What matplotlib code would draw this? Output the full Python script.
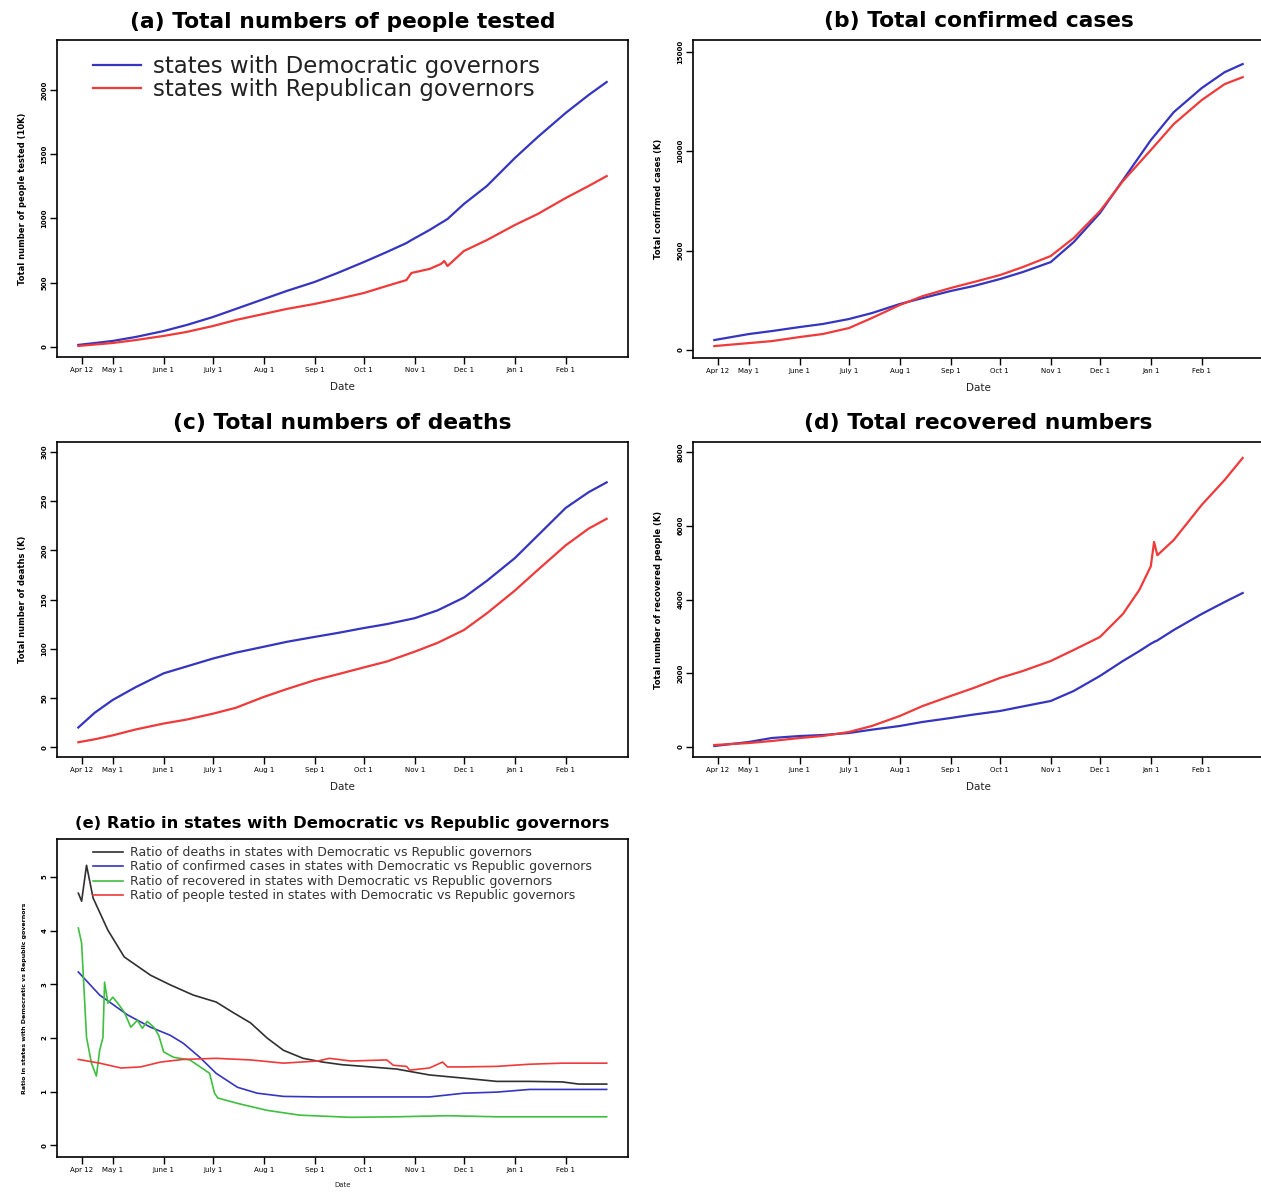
#script for the governors comparison panels

import numpy as np
import matplotlib
matplotlib.use('Agg')
import matplotlib.pyplot as plt
import pandas as pd

BLUE = '#3535c0'
RED = '#f03a3a'
GREEN = '#3fbf3f'
BLACK = '#303030'

tick_dates = ['2020-04-12', '2020-05-01', '2020-06-01', '2020-07-01', '2020-08-01', '2020-09-01',
              '2020-10-01', '2020-11-01', '2020-12-01', '2021-01-01', '2021-02-01']
tick_labels = ['Apr 12', 'May 1', 'June 1', 'July 1', 'Aug 1', 'Sep 1',
               'Oct 1', 'Nov 1', 'Dec 1', 'Jan 1', 'Feb 1']

# (a) people tested
dates_a = ['2020-04-10', '2020-05-01', '2020-05-15', '2020-06-01', '2020-06-15', '2020-07-01',
           '2020-07-15', '2020-08-01', '2020-08-15', '2020-09-01', '2020-09-15', '2020-10-01',
           '2020-10-15', '2020-10-27', '2020-10-30', '2020-11-10', '2020-11-17', '2020-11-19',
           '2020-11-21', '2020-12-01', '2020-12-15', '2021-01-01', '2021-01-15', '2021-02-01',
           '2021-02-15', '2021-02-26']
tested_dem = [16, 47, 78, 124, 171, 233, 296, 373, 436, 506, 576, 661, 739, 809, 832, 910,
              965, 980, 996, 1113, 1253, 1470, 1634, 1821, 1961, 2062]
tested_rep = [8, 31, 54, 86, 117, 163, 210, 257, 296, 335, 373, 420, 475, 521, 576, 607,
              646, 669, 630, 747, 832, 949, 1035, 1159, 1253, 1330]

# (b) confirmed cases
dates_b = ['2020-04-10', '2020-05-01', '2020-05-15', '2020-06-01', '2020-06-15', '2020-07-01',
           '2020-07-15', '2020-08-01', '2020-08-15', '2020-09-01', '2020-09-15', '2020-10-01',
           '2020-10-15', '2020-11-01', '2020-11-15', '2020-12-01', '2020-12-15', '2021-01-01',
           '2021-01-15', '2021-02-01', '2021-02-15', '2021-02-26']
cases_dem = [503, 805, 955, 1157, 1310, 1560, 1860, 2315, 2615, 2970, 3220, 3570, 3925, 4425,
             5430, 6890, 8550, 10560, 11970, 13180, 13980, 14390]
cases_rep = [200, 350, 450, 655, 805, 1105, 1610, 2265, 2715, 3120, 3420, 3770, 4175, 4730,
             5635, 6990, 8500, 10060, 11370, 12575, 13380, 13730]

# (c) deaths
dates_c = ['2020-04-10', '2020-04-20', '2020-05-01', '2020-05-15', '2020-06-01', '2020-06-15',
           '2020-07-01', '2020-07-15', '2020-08-01', '2020-08-15', '2020-09-01', '2020-09-15',
           '2020-10-01', '2020-10-15', '2020-11-01', '2020-11-15', '2020-12-01', '2020-12-15',
           '2021-01-01', '2021-01-15', '2021-02-01', '2021-02-15', '2021-02-26']
deaths_dem = [20, 35, 48, 61, 75, 82, 90, 96, 102, 107, 112, 116, 121, 125, 131, 139, 152, 169,
              192, 215, 243, 259, 269]
deaths_rep = [5, 8, 12, 18, 24, 28, 34, 40, 51, 59, 68, 74, 81, 87, 97, 106, 119, 136, 159, 180,
              205, 222, 232]

# (d) recovered
dates_d = ['2020-04-10', '2020-05-01', '2020-05-15', '2020-06-01', '2020-06-15', '2020-07-01',
           '2020-07-15', '2020-08-01', '2020-08-15', '2020-09-01', '2020-09-15', '2020-10-01',
           '2020-10-15', '2020-11-01', '2020-11-15', '2020-12-01', '2020-12-15', '2020-12-25',
           '2021-01-01', '2021-01-03', '2021-01-05', '2021-01-15', '2021-02-01', '2021-02-15',
           '2021-02-26']
recov_dem = [27, 136, 244, 298, 325, 380, 470, 570, 680, 786, 880, 976, 1100, 1248, 1519, 1926,
             2332, 2600, 2800, 2850, 2890, 3173, 3607, 3932, 4176]
recov_rep = [54, 108, 163, 244, 298, 407, 570, 841, 1112, 1383, 1600, 1871, 2061, 2332, 2631,
             2983, 3607, 4258, 4900, 5560, 5200, 5614, 6563, 7241, 7838]

# (e) ratios
dates_death_r = ['2020-04-10', '2020-04-12', '2020-04-15', '2020-04-19', '2020-04-28', '2020-05-08',
                 '2020-05-24', '2020-06-05', '2020-06-19', '2020-07-03', '2020-07-13', '2020-07-24',
                 '2020-08-03', '2020-08-13', '2020-08-25', '2020-09-06', '2020-09-18', '2020-10-01',
                 '2020-10-21', '2020-11-10', '2020-12-01', '2020-12-21', '2021-01-10', '2021-01-30',
                 '2021-02-09', '2021-02-26']
ratio_death = [4.70, 4.55, 5.22, 4.61, 4.01, 3.51, 3.17, 2.99, 2.80, 2.67, 2.48, 2.28, 2.00, 1.77,
               1.62, 1.55, 1.50, 1.47, 1.42, 1.31, 1.25, 1.19, 1.19, 1.18, 1.14, 1.14]

dates_case_r = ['2020-04-10', '2020-04-23', '2020-05-10', '2020-05-24', '2020-06-05', '2020-06-13',
                '2020-06-23', '2020-07-03', '2020-07-16', '2020-07-28', '2020-08-13', '2020-09-03',
                '2020-09-23', '2020-11-10', '2020-12-01', '2020-12-21', '2021-01-10', '2021-02-26']
ratio_case = [3.23, 2.80, 2.43, 2.20, 2.05, 1.90, 1.64, 1.34, 1.08, 0.97, 0.91, 0.90, 0.90, 0.90,
              0.97, 0.99, 1.04, 1.04]

dates_recov_r = ['2020-04-10', '2020-04-12', '2020-04-15', '2020-04-18', '2020-04-21', '2020-04-23',
                 '2020-04-25', '2020-04-26', '2020-04-28', '2020-05-01', '2020-05-04', '2020-05-08',
                 '2020-05-12', '2020-05-16', '2020-05-19', '2020-05-22', '2020-05-26', '2020-05-29',
                 '2020-06-01', '2020-06-07', '2020-06-17', '2020-06-29', '2020-07-02', '2020-07-04',
                 '2020-07-16', '2020-08-03', '2020-08-23', '2020-09-23', '2020-10-21', '2020-11-21',
                 '2020-12-21', '2021-01-30', '2021-02-26']
ratio_recov = [4.05, 3.77, 2.01, 1.53, 1.29, 1.77, 2.01, 3.04, 2.65, 2.76, 2.65, 2.48, 2.20, 2.33,
               2.18, 2.31, 2.20, 2.05, 1.74, 1.64, 1.59, 1.34, 0.97, 0.88, 0.78, 0.65, 0.56, 0.52,
               0.53, 0.55, 0.53, 0.53, 0.53]

dates_test_r = ['2020-04-10', '2020-04-23', '2020-05-06', '2020-05-18', '2020-05-30', '2020-06-13',
                '2020-07-03', '2020-07-24', '2020-08-13', '2020-09-03', '2020-09-10', '2020-09-23',
                '2020-10-15', '2020-10-19', '2020-10-27', '2020-10-29', '2020-11-10', '2020-11-18',
                '2020-11-21', '2020-12-01', '2020-12-21', '2021-01-10', '2021-01-30', '2021-02-26']
ratio_test = [1.60, 1.53, 1.44, 1.46, 1.55, 1.60, 1.62, 1.59, 1.53, 1.57, 1.62, 1.57, 1.59, 1.49,
              1.47, 1.40, 1.44, 1.55, 1.46, 1.46, 1.47, 1.51, 1.53, 1.53]

W, H = 1261, 1193
fig = plt.figure(figsize=(W / 100, H / 100), dpi=100)
plt.rcParams['font.family'] = 'DejaVu Sans'


def box(left, top, right, bottom):
    return [left / W, 1 - bottom / H, (right - left) / W, (bottom - top) / H]


def style_axes(ax, title, ylabel, yticks, ylim, title_size=15.7, date_size=7.5, title_pad=9):
    ax.set_xlim(pd.Timestamp('2020-03-28'), pd.Timestamp('2021-03-11'))
    ax.set_ylim(*ylim)
    ax.set_xticks(pd.to_datetime(tick_dates))
    ax.set_xticklabels(tick_labels)
    ax.set_yticks(yticks)
    ax.tick_params(direction='out', length=5, width=1, labelsize=5, pad=2)
    for lab in ax.get_yticklabels():
        lab.set_rotation(90)
        lab.set_va('center')
        lab.set_fontweight('bold')
    for sp in ax.spines.values():
        sp.set_linewidth(1.2)
    ax.set_title(title, fontsize=title_size, fontweight='bold', pad=title_pad)
    ax.set_xlabel('Date', fontsize=date_size, labelpad=7, color='#222222')
    ax.set_ylabel(ylabel, fontsize=6, fontweight='bold', labelpad=10)


# (a)
ax = fig.add_axes(box(57, 40, 628, 357))
ax.plot(pd.to_datetime(dates_a), tested_dem, color=BLUE, lw=1.6, label='states with Democratic governors')
ax.plot(pd.to_datetime(dates_a), tested_rep, color=RED, lw=1.6, label='states with Republican governors')
style_axes(ax, '(a) Total numbers of people tested', 'Total number of people tested (10K)',
           [0, 500, 1000, 1500, 2000], (-78, 2389))
ax.legend(loc='upper left', bbox_to_anchor=(0.047, 0.983), frameon=False, fontsize=16.5,
          handlelength=2.1, handletextpad=0.5, labelspacing=0.0, borderaxespad=0.0,
          labelcolor='#222222')

# (b)
ax = fig.add_axes(box(693, 40, 1264, 358))
ax.plot(pd.to_datetime(dates_b), cases_dem, color=BLUE, lw=1.6)
ax.plot(pd.to_datetime(dates_b), cases_rep, color=RED, lw=1.6)
style_axes(ax, '(b) Total confirmed cases', 'Total confirmed cases (K)',
           [0, 5000, 10000, 15000], (-400, 15600))

# (c)
ax = fig.add_axes(box(57, 442, 628, 757))
ax.plot(pd.to_datetime(dates_c), deaths_dem, color=BLUE, lw=1.6)
ax.plot(pd.to_datetime(dates_c), deaths_rep, color=RED, lw=1.6)
style_axes(ax, '(c) Total numbers of deaths', 'Total number of deaths (K)',
           [0, 50, 100, 150, 200, 250, 300], (-10, 310))

# (d)
ax = fig.add_axes(box(693, 442, 1264, 757))
ax.plot(pd.to_datetime(dates_d), recov_dem, color=BLUE, lw=1.6)
ax.plot(pd.to_datetime(dates_d), recov_rep, color=RED, lw=1.6)
style_axes(ax, '(d) Total recovered numbers', 'Total number of recovered people (K)',
           [0, 2000, 4000, 6000, 8000], (-271, 8271))

# (e)
ax = fig.add_axes(box(57, 839, 628, 1157))
ax.plot(pd.to_datetime(dates_death_r), ratio_death, color=BLACK, lw=1.2,
        label='Ratio of deaths in states with Democratic vs Republic governors')
ax.plot(pd.to_datetime(dates_case_r), ratio_case, color=BLUE, lw=1.2,
        label='Ratio of confirmed cases in states with Democratic vs Republic governors')
ax.plot(pd.to_datetime(dates_recov_r), ratio_recov, color=GREEN, lw=1.2,
        label='Ratio of recovered in states with Democratic vs Republic governors')
ax.plot(pd.to_datetime(dates_test_r), ratio_test, color=RED, lw=1.2,
        label='Ratio of people tested in states with Democratic vs Republic governors')
style_axes(ax, '(e) Ratio in states with Democratic vs Republic governors',
           'Ratio in states with Democratic vs Republic governors',
           [0, 1, 2, 3, 4, 5], (-0.22, 5.71), title_size=11.8, date_size=5, title_pad=8)
ax.yaxis.label.set_fontsize(4.5)
ax.legend(loc='upper left', bbox_to_anchor=(0.054, 0.994), frameon=False, fontsize=9,
          handlelength=2.4, handletextpad=0.55, labelspacing=0.12, borderaxespad=0.0,
          labelcolor='#333333')

fig.savefig('out.png', dpi=100)
